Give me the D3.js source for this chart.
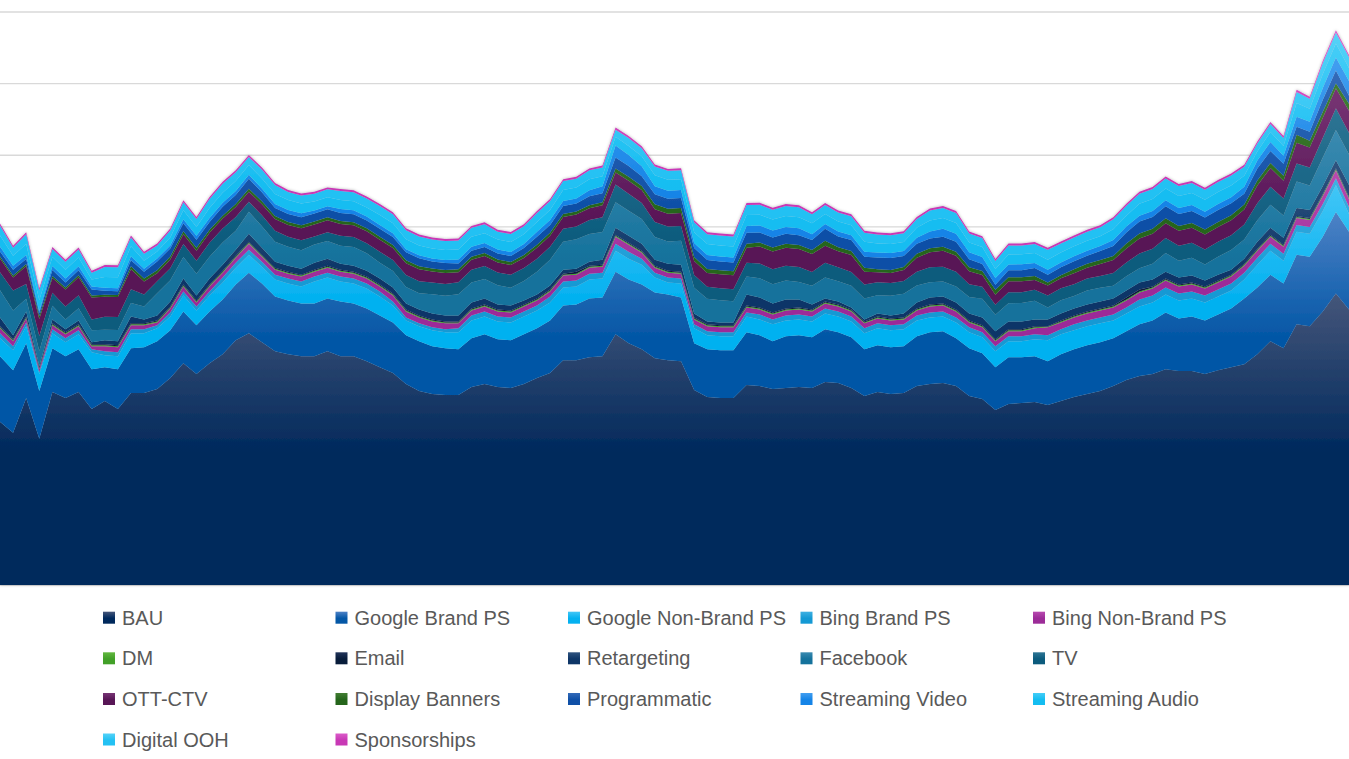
<!DOCTYPE html>
<html>
<head>
<meta charset="utf-8">
<script src="https://cdn.jsdelivr.net/npm/d3@7"></script>
<style>
  body { margin: 0; background: #fff; }
  svg { display: block; }
</style>
</head>
<body>
<script>
// 104 weekly points (grid step = 72)
const weeks = d3.range(1, 105);

const bau = [164,153,188,147,194,188,194,177,185,177, 193,193,197,208,223,212,223,232,246,253,
  244,235,232,230,230,235,230,230,225,219, 213,202,195,192,191,191,199,202,199,198,
  202,208,213,226,226,229,230,252,243,237, 228,226,225,196,189,188,188,201,200,197,
  198,199,198,204,203,198,190,194,192,193, 200,202,203,200,190,187,176,182,183,184,
  181,185,189,192,195,200,206,210,212,217, 215,215,212,216,219,222,232,245,238,262,
  260,275,293,277];
const googleBrand = [66,63,55,48,44,42,43,40,34,40, 45,46,48,48,52,49,52,55,56,61,
  59,55,54,53,53,53,55,53,53,52, 51,49,50,48,47,46,49,50,48,48,
  50,50,53,55,56,59,59,63,64,65, 66,66,64,47,48,48,48,53,51,48,
  52,52,51,53,51,51,47,47,47,47, 50,52,52,48,48,46,43,47,46,46,
  44,47,48,49,49,48,49,52,54,57, 53,55,54,56,59,66,67,67,65,70,
  70,75,82,78];
const googleNonBrand = [18,20,17,17,15,14,15,17,12,13, 15,14,13,14,16,15,16,17,17,18,
  17,17,17,17,22,21,20,20,20,19, 17,15,15,16,16,17,18,18,18,18,
  18,18,18,18,18,19,19,21,21,20, 15,12,14,15,14,14,14,16,16,17,
  16,16,16,16,16,16,16,17,17,17, 16,15,15,16,16,16,16,16,16,17,
  21,20,19,19,19,18,18,18,18,18, 18,18,18,18,18,19,23,24,23,23,
  23,26,27,18];
const bingBrand = [5,4,4,2,4,4,4,3,4,4, 4,4,3,4,4,4,4,5,5,5,
  5,5,5,5,5,5,5,5,5,5, 4,3,3,3,3,4,5,5,5,5,
  5,5,6,6,6,6,6,7,7,6, 5,5,5,4,4,4,4,4,5,5,
  5,5,5,5,5,5,5,5,5,5, 5,5,5,5,5,5,5,5,5,5,
  5,5,6,6,6,6,6,7,7,7, 7,7,7,7,7,7,7,7,7,7,
  7,7,7,7];
const bingNonBrand = [5,5,4,3,4,4,4,3,5,5, 4,4,3,4,5,4,5,5,5,6,
  5,5,5,5,5,5,5,5,5,5, 6,6,6,6,6,5,5,5,5,5,
  5,5,5,6,6,6,6,7,7,6, 5,5,5,5,5,5,5,5,5,5,
  5,5,5,5,5,5,5,5,5,5, 5,6,6,6,5,5,5,5,5,6,
  8,7,7,7,7,7,7,7,7,7, 7,7,7,7,7,7,7,7,7,7,
  7,8,8,8];
const dm = [1,1,1,0.5,1,1,1,1,1,1, 1,1,1,1,1,1,1,1,1,1,
  1,1,1,1,1,1,1,1,1,1, 1,1,1,1,1,1,1,1,1,1,
  1,1,1,1,1,1,1,1,1,1, 1,1,1,1,1,1,1,1,1,1,
  1,1,1,1,1,1,1,1,1,1, 1,1,1,1,1,1,1,1,1,1,
  0.5,1,1,1,1,1,1,1,1,1, 1,1,1,1,1,1,1,1,1,1,
  1,1,1,1];
const email = [1,1,1,0.5,1,1,1,1,1,1, 1,1,1,1,1,1,1,1,1,1,
  1,1,1,1,1,1,1,1,1,1, 1,1,1,1,1,1,1,1,1,1,
  1,1,1,1,2,1,1,1,1,1, 1,1,1,1,1,1,1,1,1,1,
  1,1,1,1,1,1,1,1,1,1, 1,1,1,1,1,1,1,1,1,1,
  0.5,1,1,1,1,1,2,2,1,1, 1,1,1,1,1,1,1,1,1,1,
  1,1,1,1];
const retargeting = [9,4,5,2,4,3,4,2,4,4, 7,4,5,5,6,5,6,6,6,8,
  7,6,6,6,7,7,6,6,6,6, 6,6,6,6,6,6,6,6,5,5,
  4,4,4,4,3,4,5,7,7,7, 6,7,7,4,3,3,3,11,10,9,
  9,8,5,3,3,2,2,3,3,4, 6,7,7,7,7,8,8,8,8,7,
  7,7,7,7,7,7,7,7,7,7, 7,7,6,6,5,5,7,7,7,8,
  8,8,8,12];
const facebook = [27.3,25,12.7,15.3,13.7,10,12.3,12,10.7,11.4, 13.4,13,22.3,21.3,21.7,22,22,22.3,19,22.3,
  21.7,20,19,18.6,18.4,17.7,18,18.7,17.5,16, 16.7,16.5,16.4,19.2,19.7,21.3,20,19.7,19.2,17.8,
  19.7,23,26,28,29.5,27.8,27.8,25.7,25.3,25, 22.8,22.3,24,25.7,22.7,22.3,21.3,18,19.3,19.3,
  19,17.7,18.7,21,20.4,21.7,21,18.3,19.7,19.7, 17,15.4,15,16,16.4,18.7,16.7,18.3,18.4,18.7,
  12,13.3,12.4,14,13.7,12.7,14.3,14.3,16,18.7, 17,18,16.3,18,19.7,19.4,21.7,23.3,22.4,26.6,
  24.7,28.7,30.3,30.7];
const tv = [18,20,15,15,13,13,13,11,13,13, 14,12,12,12,13,13,14,14,14,10,
  11,11,10,10,8,9,10,10,10,11, 11,12,12,12,12,12,13,13,13,13,
  13,13,13,13,13,14,15,18,17,16, 15,15,15,13,12,12,12,14,15,15,
  15,15,14,15,14,14,14,13,13,13, 14,15,15,15,13,12,10,11,11,11,
  12,12,12,12,12,13,14,15,15,15, 15,15,15,15,15,15,17,18,17,18,
  18,20,22,22];
const ottCtv = [14,13,18,17,15,17,18,22,20,20, 20,13,8,9,10,10,10,10,10,10,
  11,12,12,12,12,12,12,12,12,12, 12,12,12,11,11,10,10,10,10,10,
  10,11,11,12,12,12,12,12,13,13, 13,13,13,14,14,14,14,15,17,18,
  18,18,18,17,16,17,13,10,10,11, 14,15,16,16,13,12,10,11,11,10,
  10,10,11,11,12,13,14,15,15,15, 15,15,15,15,15,15,18,19,18,21,
  20,20,20,22];
const displayBanners = [2,2,2,3,2,2,2,2,2,2, 3,3,3,3,3,3,3,3,3,3,
  3,3,3,3,3,3,3,3,3,3, 3,3,3,3,3,3,3,3,3,3,
  3,3,3,3,3,3,3,4,4,4, 5,5,5,4,4,4,4,4,4,4,
  4,4,4,5,4,4,4,3,3,3, 4,4,4,4,4,4,5,4,4,4,
  3,3,4,4,4,4,5,5,5,5, 5,5,5,5,5,5,5,5,5,8,
  7,6,5,7];
const programmatic = [5,6,5,3,6,5,5,6,4,4, 6,7,9,8,8,8,8,9,9,10,
  9,8,8,8,8,8,8,8,8,8, 8,8,8,7,7,6,6,6,6,6,
  7,8,8,8,8,9,9,11,11,10, 10,10,10,9,9,9,9,11,10,10,
  10,10,10,12,11,11,11,12,12,11, 10,10,10,10,8,7,5,7,7,8,
  8,8,8,8,9,10,11,12,12,12, 12,12,12,12,12,11,12,12,12,8,
  9,12,13,8];
const streamingVideo = [5,4,4,2,4,4,4,3,3,3, 4,3,3,3,4,4,4,4,4,4,
  4,4,4,4,3,3,4,4,4,4, 4,3,3,3,3,4,4,4,4,4,
  4,5,5,5,5,6,7,12,11,10, 8,8,8,5,5,5,5,7,7,7,
  7,7,6,5,5,5,5,5,5,5, 6,7,8,8,7,7,7,6,6,5,
  5,5,5,5,5,6,6,6,6,6, 6,6,6,6,6,7,8,9,8,10,
  10,12,13,15];
const streamingAudio = [11,10,11,11,9,9,9,7,11,11, 10,8,7,8,9,9,10,10,10,10,
  10,10,10,10,9,9,9,9,9,10, 10,10,10,10,10,10,10,10,10,10,
  10,10,10,11,11,11,10,9,9,10, 11,11,11,11,11,11,11,11,11,11,
  11,11,11,10,10,10,10,9,9,9, 10,11,11,11,10,10,9,10,10,10,
  10,10,10,10,10,11,11,12,12,12, 12,12,12,12,12,11,9,10,10,14,
  13,14,14,13];
const digitalOoh = [10,8,10,10,8,8,8,7,10,10, 9,7,6,7,8,8,9,9,9,8,
  9,9,8,8,8,8,9,9,9,9, 9,9,9,9,9,9,9,9,8,8,
  8,9,9,9,9,9,9,7,8,8, 9,9,9,10,10,10,10,10,10,10,
  10,10,9,9,9,9,9,9,9,9, 9,10,10,10,9,9,8,9,9,9,
  10,9,9,9,9,10,10,10,10,10, 10,10,10,10,10,9,8,8,8,11,
  10,11,11,11];
const sponsorships = [2,2,2,2,2,2,2,2,2,2, 2,2,2,2,2,2,2,2,2,2,
  2,2,2,2,2,2,2,2,2,2, 2,2,2,2,2,2,2,2,2,2,
  2,2,2,2,2,2,2,2.2,2,2, 2,2,2,2,2,2,2,2,2,2,
  2,2,2,2,2,2,2,2,2,2, 2,2,2,2,2,2,2,2,2,2,
  2,2,2,2,2,2,2,2,2,2, 2,2,2,2,2,2,2.2,2.2,2,2.2,
  2.2,2.2,2.4,2.2];

// [top of gradient, body colour]
const series = [
  { key: "BAU", values: bau, colors: ["#45567a", "#00295c"] },
  { key: "Google Brand PS", values: googleBrand, colors: ["#4d82c6", "#0457a6"] },
  { key: "Google Non-Brand PS", values: googleNonBrand, colors: ["#42c6f6", "#04b1f0"] },
  { key: "Bing Brand PS", values: bingBrand, colors: ["#3eb0e2", "#1499d4"] },
  { key: "Bing Non-Brand PS", values: bingNonBrand, colors: ["#b84ab0", "#9c2c98"] },
  { key: "DM", values: dm, colors: ["#62b83f", "#42a028"] },
  { key: "Email", values: email, colors: ["#22345a", "#081c3a"] },
  { key: "Retargeting", values: retargeting, colors: ["#2f537f", "#0e3667"] },
  { key: "Facebook", values: facebook, colors: ["#3a8ab0", "#15729c"] },
  { key: "TV", values: tv, colors: ["#2e7594", "#0c5b7d"] },
  { key: "OTT-CTV", values: ottCtv, colors: ["#773474", "#581656"] },
  { key: "Display Banners", values: displayBanners, colors: ["#427e33", "#25651b"] },
  { key: "Programmatic", values: programmatic, colors: ["#336ab8", "#1050a7"] },
  { key: "Streaming Video", values: streamingVideo, colors: ["#429ef0", "#1584e7"] },
  { key: "Streaming Audio", values: streamingAudio, colors: ["#45cdf7", "#14bdf1"] },
  { key: "Digital OOH", values: digitalOoh, colors: ["#55d2f8", "#24c1f3"] },
  { key: "Sponsorships", values: sponsorships, colors: ["#db5bc9", "#c838b5"] }
];

const width = 1349;
const height = 759;

const svg = d3.select('body')
  .append('svg')
  .attr('width', width)
  .attr('height', height);

const x = d3.scalePoint().domain(weeks).range([0, width]);
const y = d3.scaleLinear().domain([0, 576]).range([585, 12]);

const defs = svg.append('defs');

defs.selectAll('linearGradient')
  .data(series)
  .join('linearGradient')
  .attr('id', (d, i) => 'grad-' + i)
  .attr('x1', 0).attr('y1', 0).attr('x2', 0).attr('y2', 1)
  .each(function (d) {
    const g = d3.select(this);
    g.append('stop').attr('offset', '0%').attr('stop-color', d.colors[0]);
    g.append('stop').attr('offset', '55%').attr('stop-color', d.colors[1]);
    g.append('stop').attr('offset', '100%').attr('stop-color', d.colors[1]);
  });

defs.append('filter')
  .attr('id', 'shadow')
  .attr('x', '-2%').attr('y', '-5%')
  .attr('width', '104%').attr('height', '110%')
  .append('feDropShadow')
  .attr('dx', 0).attr('dy', 0)
  .attr('stdDeviation', 1.5)
  .attr('flood-color', '#000')
  .attr('flood-opacity', 0.3);

// gridlines
svg.append('g')
  .selectAll('line')
  .data(d3.range(0, 577, 72))
  .join('line')
  .attr('x1', 0)
  .attr('x2', width)
  .attr('y1', (d) => y(d))
  .attr('y2', (d) => y(d))
  .attr('stroke', '#d9d9d9')
  .attr('stroke-width', 1.3);

const table = weeks.map((w, i) => {
  const row = { week: w };
  series.forEach((s) => { row[s.key] = s.values[i]; });
  return row;
});

const layers = d3.stack().keys(series.map((s) => s.key))(table);

const area = d3.area()
  .x((d) => x(d.data.week))
  .y0((d) => y(d[0]))
  .y1((d) => y(d[1]));

svg.append('g')
  .attr('filter', 'url(#shadow)')
  .selectAll('path')
  .data(layers)
  .join('path')
  .attr('d', area)
  .attr('fill', (d, i) => `url(#grad-${i})`);

// legend, 5 columns
const colX = [103, 335.5, 568, 800.5, 1033];
const rowY = [617.7, 658.3, 699, 739.5];

const legend = svg.append('g')
  .attr('font-family', "'Liberation Sans', Arial, sans-serif")
  .attr('font-size', 20)
  .attr('fill', '#595959');

const item = legend.selectAll('g')
  .data(series)
  .join('g')
  .attr('transform', (d, i) => `translate(${colX[i % 5]},${rowY[Math.floor(i / 5)]})`);

item.append('rect')
  .attr('y', -6)
  .attr('width', 12)
  .attr('height', 12)
  .attr('fill', (d, i) => `url(#grad-${i})`);

item.append('text')
  .attr('x', 19)
  .attr('y', 7)
  .text((d) => d.key);
</script>
</body>
</html>
